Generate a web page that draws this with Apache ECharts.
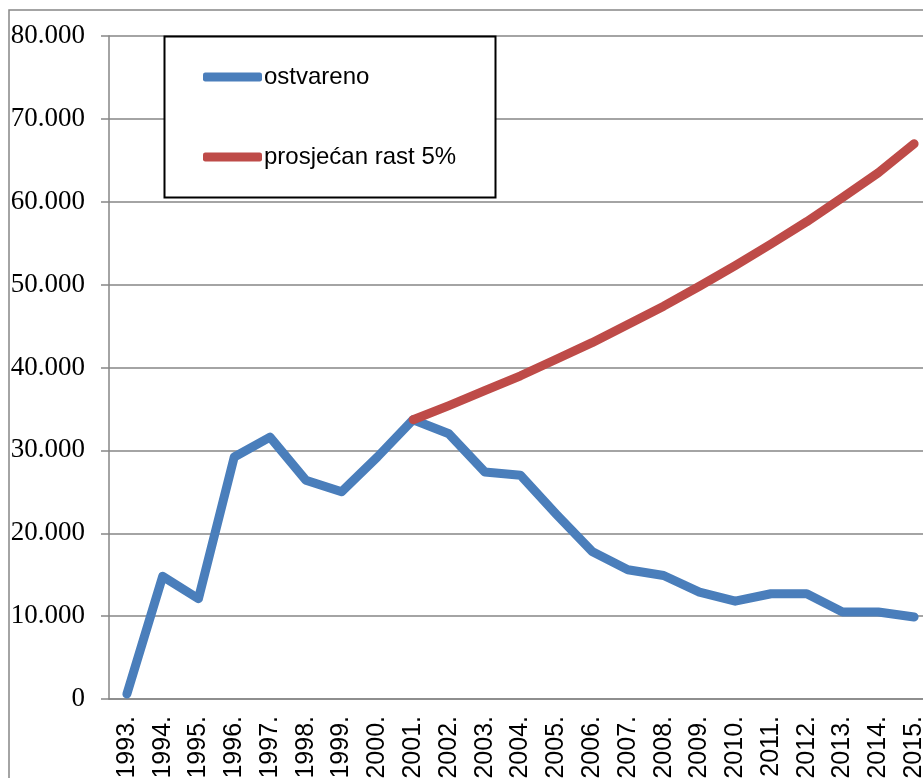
<!DOCTYPE html>
<html>
<head>
<meta charset="utf-8">
<title>ostvareno / prosjećan rast 5%</title>
<script src="https://cdn.jsdelivr.net/npm/echarts@6/dist/echarts.min.js"></script>
<style>
	html, body { margin: 0; padding: 0; background: #fff; }
	#chart { width: 923px; height: 778px; }
</style>
</head>
<body>
<div id="chart"></div>
<script>
// data
var years = ['1993.', '1994.', '1995.', '1996.', '1997.', '1998.', '1999.', '2000.', '2001.', '2002.', '2003.', '2004.',
	'2005.', '2006.', '2007.', '2008.', '2009.', '2010.', '2011.', '2012.', '2013.', '2014.', '2015.']
var ostvareno = [600, 14800, 12100, 29200, 31600, 26400, 25000, 29200, 33700, 32000, 27400, 27000,
	22300, 17800, 15600, 14900, 12900, 11800, 12700, 12700, 10500, 10500, 9900]
var prosjecanRast = [null, null, null, null, null, null, null, null, 33700, 35400, 37200, 39000,
	41000, 43000, 45200, 47400, 49800, 52300, 54900, 57600, 60500, 63500, 67000]
var yTicks = { min: 0, max: 80000, interval: 10000 }

var gray = '#868686'

// 80000 -> "80.000"
function fmtThousands(v) {
	return String(v).replace(/\B(?=(\d{3})+(?!\d))/g, '.')
}

var myChart = echarts.init(document.getElementById('chart'))
myChart.setOption({
	animation: false,
	backgroundColor: '#fff',
	grid: {
		left: 109,
		top: 36,
		bottom: 79,
		width: 823,
		containLabel: false,
		outerBoundsMode: 'none'
	},
	// outer chart border + legend box
	graphic: [
		{
			type: 'rect',
			z: 1,
			shape: { x: 9, y: 10, width: 1200, height: 1200 },
			style: { fill: 'none', stroke: gray, lineWidth: 1.5 }
		},
		{
			type: 'rect',
			z: 5,
			shape: { x: 164.5, y: 36.5, width: 331, height: 161 },
			style: { fill: '#fff', stroke: '#000', lineWidth: 2 }
		}
	],
	legend: {
		z: 10,
		orient: 'vertical',
		left: 203,
		top: 65,
		padding: 0,
		itemGap: 56,
		itemWidth: 59,
		itemHeight: 9,
		icon: 'roundRect',
		textStyle: {
			fontFamily: 'Liberation Sans',
			fontSize: 24,
			color: '#000',
			padding: [0, 0, 0, -3]
		},
		data: ['ostvareno', 'prosjećan rast 5%']
	},
	xAxis: {
		type: 'category',
		data: years,
		boundaryGap: true,
		axisLine: { lineStyle: { color: gray, width: 1.5 } },
		axisTick: { length: 7, lineStyle: { color: gray, width: 1.5 } },
		axisLabel: {
			rotate: 90,
			interval: 0,
			margin: 17,
			fontFamily: 'Liberation Sans',
			fontSize: 25,
			color: '#000'
		}
	},
	yAxis: {
		type: 'value',
		min: yTicks.min,
		max: yTicks.max,
		interval: yTicks.interval,
		axisLine: { show: true, lineStyle: { color: gray, width: 1.5 } },
		axisTick: { show: true, length: 8, lineStyle: { color: gray, width: 1.5 } },
		splitLine: { lineStyle: { color: gray, width: 1.5 } },
		axisLabel: {
			margin: 24,
			fontFamily: 'Liberation Serif',
			fontSize: 27,
			color: '#000',
			formatter: fmtThousands
		}
	},
	series: [
		{
			name: 'ostvareno',
			type: 'line',
			data: ostvareno,
			symbol: 'none',
			color: '#4A7EBB',
			lineStyle: { width: 9, color: '#4A7EBB', cap: 'round', join: 'round' }
		},
		{
			name: 'prosjećan rast 5%',
			type: 'line',
			data: prosjecanRast,
			symbol: 'none',
			color: '#BE4B48',
			lineStyle: { width: 9, color: '#BE4B48', cap: 'round', join: 'round' }
		}
	]
})
</script>
</body>
</html>
